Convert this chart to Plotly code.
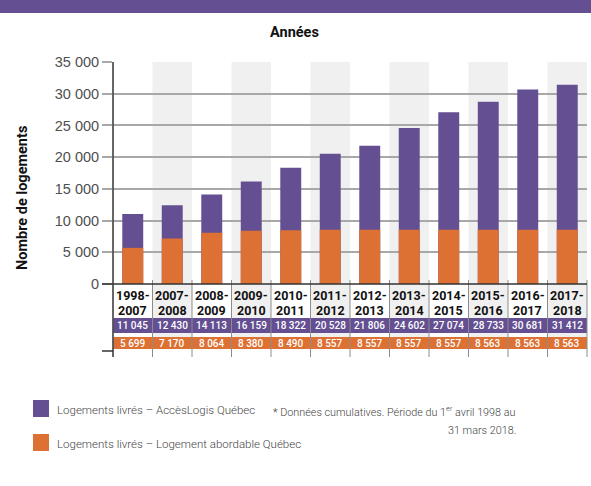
import plotly.graph_objects as go

periods = ["1998-2007", "2007-2008", "2008-2009", "2009-2010", "2010-2011", "2011-2012",
           "2012-2013", "2013-2014", "2014-2015", "2015-2016", "2016-2017", "2017-2018"]
acceslogis = [11045, 12430, 14113, 16159, 18322, 20528, 21806, 24602, 27074, 28733, 30681, 31412]
abordable = [5699, 7170, 8064, 8380, 8490, 8557, 8557, 8557, 8557, 8563, 8563, 8563]
y_ticks = [0, 5000, 10000, 15000, 20000, 25000, 30000, 35000]

PURPLE = "#634f92"
ORANGE = "#dd7033"
BAND = "#f0f0f0"
GRID = "#a8a8a8"
NARROW = "Roboto, Liberation Sans, sans-serif"
REG = "Liberation Sans, Arial, sans-serif"

W, H = 591, 486
L, R, T, B = 113, 587, 62, 284
PW, PH = R - L, B - T


def px(x):
    return (x - L) / PW


def py(y):
    return (B - y) / PH


def fmt(v):
    return f"{v:,}".replace(",", " ")


fig = go.Figure()
fig.add_trace(go.Bar(x=periods, y=acceslogis, marker=dict(color=PURPLE, line=dict(width=0)),
                     width=0.53, showlegend=False, name="Logements livrés – AccèsLogis Québec"))
fig.add_trace(go.Bar(x=periods, y=abordable, marker=dict(color=ORANGE, line=dict(width=0)),
                     width=0.53, showlegend=False, name="Logements livrés – Logement abordable Québec"))

shapes = []
annotations = []
n = len(periods)

# alternate column bands
for i in range(n):
    if i % 2 == 1:
        shapes.append(dict(type="rect", xref="x", yref="paper", x0=i - 0.5, x1=i + 0.5,
                           y0=py(349), y1=py(T), fillcolor=BAND, line=dict(width=0), layer="below"))

# table rows
shapes.append(dict(type="rect", xref="paper", yref="paper", x0=px(113.5), x1=px(587),
                   y0=py(333), y1=py(318), fillcolor=PURPLE, line=dict(width=0)))
shapes.append(dict(type="rect", xref="paper", yref="paper", x0=px(113.5), x1=px(587),
                   y0=py(349), y1=py(337), fillcolor=ORANGE, line=dict(width=0)))

# column separators
for i in range(n):
    xb = px(L + (i + 1) * PW / n)
    shapes.append(dict(type="line", xref="paper", yref="paper", x0=xb, x1=xb,
                       y0=py(357), y1=py(280), line=dict(color="#8c8c8c", width=1)))

# axis extensions
shapes.append(dict(type="line", xref="paper", yref="paper", x0=0, x1=0, y0=py(357), y1=1,
                   line=dict(color="#333333", width=1.5)))
shapes.append(dict(type="line", xref="paper", yref="paper", x0=px(102), x1=1, y0=0, y1=0,
                   line=dict(color="#333333", width=1.5)))
shapes.append(dict(type="line", xref="paper", yref="paper", x0=px(102), x1=0, y0=py(351), y1=py(351),
                   line=dict(color="#333333", width=1.5)))

# top band
shapes.append(dict(type="rect", xref="paper", yref="paper", x0=px(0), x1=px(W), y0=py(13), y1=py(0),
                   fillcolor=PURPLE, line=dict(width=0)))

# table text
for i, p in enumerate(periods):
    a, b = p.split("-")
    annotations.append(dict(x=p, xref="x", yref="paper", y=py(295.5), text="<b>" + a + "-</b>", showarrow=False,
                            font=dict(family=NARROW, size=12.5, color="#111111"),
                            xanchor="center", yanchor="middle"))
    annotations.append(dict(x=p, xref="x", yref="paper", y=py(310.5), text="<b>" + b + "</b>", showarrow=False,
                            font=dict(family=NARROW, size=12.5, color="#111111"),
                            xanchor="center", yanchor="middle"))
    annotations.append(dict(x=p, xref="x", yref="paper", y=py(325.5), text=fmt(acceslogis[i]), showarrow=False,
                            font=dict(family=NARROW, size=10, color="white", weight=500),
                            xanchor="center", yanchor="middle"))
    annotations.append(dict(x=p, xref="x", yref="paper", y=py(343), text=fmt(abordable[i]), showarrow=False,
                            font=dict(family=NARROW, size=10, color="white", weight=500),
                            xanchor="center", yanchor="middle"))

# titles
annotations.append(dict(x=px(294), y=py(32), xref="paper", yref="paper", text="<b>Années</b>",
                        showarrow=False, xanchor="center", yanchor="middle",
                        font=dict(family=NARROW, size=14.5, color="#111111")))
annotations.append(dict(x=px(22), y=py(198), xref="paper", yref="paper", text="<b>Nombre de logements</b>",
                        showarrow=False, textangle=-90, xanchor="center", yanchor="middle",
                        font=dict(family=NARROW, size=14.5, color="#111111")))

# legend
leg = [("Logements livrés – AccèsLogis Québec", PURPLE, 400, 417),
       ("Logements livrés – Logement abordable Québec", ORANGE, 434, 451)]
for text, col, y0, y1 in leg:
    shapes.append(dict(type="rect", xref="paper", yref="paper", x0=px(33), x1=px(49),
                       y0=py(y1), y1=py(y0), fillcolor=col, line=dict(width=0)))
    annotations.append(dict(x=px(55), y=py((y0 + y1) / 2 + 1.5), xref="paper", yref="paper", text=text,
                            showarrow=False, xanchor="left", yanchor="middle",
                            font=dict(family=NARROW, size=11.5, color="#444444", weight=300)))

annotations.append(dict(x=px(518), y=py(411), xref="paper", yref="paper",
                        text="* Données cumulatives. Période du 1<sup>er</sup> avril 1998 au",
                        showarrow=False, xanchor="right", yanchor="middle",
                        font=dict(family=NARROW, size=10.8, color="#444444", weight=300)))
annotations.append(dict(x=px(518), y=py(430), xref="paper", yref="paper", text="31 mars 2018.",
                        showarrow=False, xanchor="right", yanchor="middle",
                        font=dict(family=NARROW, size=10.8, color="#444444", weight=300)))

fig.update_layout(
    width=W, height=H,
    margin=dict(l=L, r=W - R, t=T, b=H - B, pad=0),
    barmode="overlay",
    paper_bgcolor="white", plot_bgcolor="rgba(0,0,0,0)",
    separators=", ",
    shapes=shapes, annotations=annotations,
    showlegend=False,
    xaxis=dict(showticklabels=False, ticks="", showgrid=False, showline=False, zeroline=False,
               range=[-0.5, n - 0.5], fixedrange=True),
    yaxis=dict(range=[0, 35000], tickvals=y_ticks, tickformat=",d", showgrid=True, gridcolor=GRID,
               gridwidth=1.5, zeroline=False, showline=False, ticks="outside", ticklen=10,
               tickcolor=GRID, tickwidth=1.5,
               tickfont=dict(family=REG, size=14.5, color="#505050")),
)

fig.write_html("out.html", config={"displayModeBar": False},
               post_script="document.body.style.margin='0';document.body.style.padding='0';")
